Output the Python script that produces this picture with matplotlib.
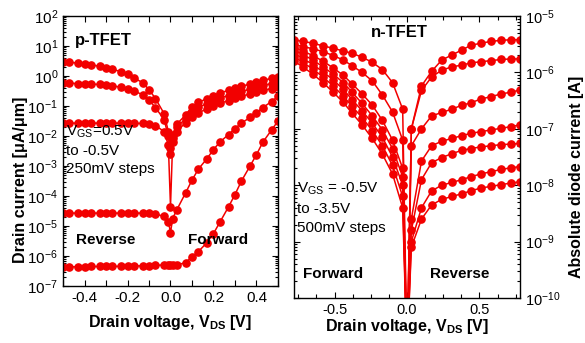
import numpy as np
import matplotlib
matplotlib.use("Agg")
import matplotlib.pyplot as plt
from matplotlib.ticker import LogLocator, MultipleLocator, FuncFormatter, NullFormatter

plt.rcParams['font.family'] = ['Liberation Sans', 'DejaVu Sans']
plt.rcParams['mathtext.fontset'] = 'custom'
plt.rcParams['mathtext.rm'] = 'Liberation Sans'
plt.rcParams['mathtext.it'] = 'Liberation Sans:italic'
plt.rcParams['mathtext.bf'] = 'Liberation Sans:bold'

RED = '#f20000'

# ---- p-TFET (left), drain current in uA/um, stored as log10 ----
p_vds = [-0.50, -0.47, -0.43, -0.40, -0.37, -0.33, -0.30, -0.27, -0.23, -0.20,
         -0.17, -0.13, -0.10, -0.07, -0.03, -0.01, 0.00, 0.01, 0.03, 0.07, 0.10, 0.13,
         0.17, 0.20, 0.23, 0.27, 0.30, 0.33, 0.37, 0.40, 0.43, 0.47, 0.50]

p_log_a = [0.48, 0.46, 0.43, 0.40, 0.37, 0.33, 0.28, 0.22, 0.15, 0.06,
           -0.06, -0.22, -0.45, -0.75, -1.25, -1.85, -2.40, -1.95, -1.60, -1.30, -1.02, -0.88,
           -0.75, -0.65, -0.56, -0.48, -0.41, -0.34, -0.27, -0.20, -0.14, -0.08, -0.02]
p_log_b = [-0.24, -0.24, -0.25, -0.26, -0.27, -0.28, -0.30, -0.33, -0.37, -0.42,
           -0.50, -0.62, -0.80, -1.05, -1.45, -2.00, -2.60, -2.05, -1.70, -1.42, -1.19, -1.04,
           -0.92, -0.82, -0.73, -0.65, -0.58, -0.51, -0.44, -0.37, -0.31, -0.25, -0.19]
p_log_c = [-1.57, -1.57, -1.57, -1.57, -1.57, -1.57, -1.57, -1.57, -1.57, -1.57,
           -1.58, -1.58, -1.60, -1.65, -1.85, -2.30, -4.35, -2.20, -1.85, -1.55, -1.36, -1.22,
           -1.10, -1.00, -0.91, -0.82, -0.74, -0.67, -0.60, -0.53, -0.47, -0.42, -0.37]
p_log_d = [-4.57, -4.57, -4.57, -4.57, -4.57, -4.57, -4.57, -4.57, -4.57, -4.57,
           -4.57, -4.57, -4.58, -4.60, -4.68, -4.85, -5.22, -4.75, -4.45, -3.90, -3.47, -3.10,
           -2.75, -2.45, -2.20, -1.95, -1.75, -1.57, -1.38, -1.22, -1.05, -0.85, -0.68]
p_log_e = [-6.36, -6.36, -6.36, -6.36, -6.35, -6.35, -6.35, -6.35, -6.34, -6.34,
           -6.33, -6.33, -6.32, -6.31, -6.30, -6.30, -6.30, -6.30, -6.30, -6.22, -6.03, -5.85,
           -5.55, -5.25, -4.87, -4.36, -3.95, -3.50, -3.00, -2.62, -2.20, -1.80, -1.50]
p_curves = [p_log_a, p_log_b, p_log_c, p_log_d, p_log_e]

# ---- n-TFET (right), absolute diode current in A, stored as log10 ----
n_vds = [-0.78, -0.72, -0.65, -0.58, -0.51, -0.44, -0.38, -0.31, -0.24, -0.17,
         -0.10, -0.03, 0.00, 0.03, 0.10, 0.17, 0.24, 0.31, 0.38, 0.44,
         0.51, 0.58, 0.65, 0.72, 0.78]

n_log_1 = [-5.42, -5.45, -5.48, -5.53, -5.57, -5.62, -5.66, -5.73, -5.82, -5.95, -6.18, -6.65,
           -11.0,
           -7.00, -6.24, -5.98, -5.78, -5.69, -5.60, -5.52, -5.48, -5.45, -5.43, -5.42, -5.42]
n_log_2 = [-5.50, -5.54, -5.58, -5.63, -5.70, -5.78, -5.88, -6.00, -6.15, -6.40, -6.70, -7.20,
           -11.0,
           -7.00, -6.32, -6.08, -5.96, -5.90, -5.87, -5.83, -5.81, -5.79, -5.77, -5.76, -5.76]
n_log_3 = [-5.55, -5.62, -5.70, -5.80, -5.92, -6.05, -6.20, -6.38, -6.58, -6.85, -7.20, -7.70,
           -11.0,
           -7.30, -7.00, -6.77, -6.71, -6.65, -6.58, -6.54, -6.47, -6.43, -6.38, -6.35, -6.31]
n_log_4 = [-5.60, -5.68, -5.78, -5.90, -6.03, -6.18, -6.35, -6.55, -6.77, -7.02, -7.35, -7.85,
           -11.0,
           -8.60, -7.57, -7.30, -7.22, -7.17, -7.12, -7.08, -7.05, -7.02, -6.99, -6.96, -6.93]
n_log_5 = [-5.66, -5.75, -5.86, -5.99, -6.13, -6.30, -6.48, -6.68, -6.90, -7.15, -7.50, -8.00,
           -11.0,
           -8.80, -7.90, -7.60, -7.51, -7.44, -7.38, -7.35, -7.32, -7.30, -7.28, -7.27, -7.26]
n_log_6 = [-5.72, -5.82, -5.94, -6.08, -6.24, -6.42, -6.60, -6.80, -7.03, -7.30, -7.65, -8.20,
           -11.0,
           -9.00, -8.40, -8.10, -8.00, -7.95, -7.90, -7.85, -7.80, -7.76, -7.72, -7.69, -7.67]
n_log_7 = [-5.80, -5.90, -6.03, -6.18, -6.35, -6.53, -6.72, -6.93, -7.17, -7.45, -7.80, -8.40,
           -11.0,
           -9.10, -8.60, -8.35, -8.25, -8.20, -8.15, -8.10, -8.05, -8.02, -7.99, -7.96, -7.94]
n_curves = [n_log_1, n_log_2, n_log_3, n_log_4, n_log_5, n_log_6, n_log_7]


def pow_fmt(v, pos):
    e = int(round(np.log10(v)))
    return r'$\mathregular{10^{%d}}$' % e


fig = plt.figure(figsize=(5.85, 3.43), dpi=100)
ax1 = fig.add_axes([0.1077, 0.1662, 0.3675, 0.787])
ax2 = fig.add_axes([0.5026, 0.1312, 0.3863, 0.822])

for c in p_curves:
    ax1.plot(p_vds, 10 ** np.array(c), '-o', color=RED, lw=1.1, ms=5.2, mec=RED, mfc=RED)
for c in n_curves:
    ax2.plot(n_vds, 10 ** np.array(c), '-o', color=RED, lw=1.1, ms=5.2, mec=RED, mfc=RED)

# left axes
ax1.set_yscale('log')
ax1.set_xlim(-0.5, 0.5)
ax1.set_ylim(1e-7, 1e2)
ax1.xaxis.set_major_locator(MultipleLocator(0.2))
ax1.xaxis.set_minor_locator(MultipleLocator(0.1))
ax1.xaxis.set_major_formatter(FuncFormatter(lambda v, p: '%.1f' % v))
ax1.yaxis.set_major_locator(LogLocator(base=10, numticks=20))
ax1.yaxis.set_minor_locator(LogLocator(base=10, subs=np.arange(2, 10), numticks=20))
ax1.yaxis.set_major_formatter(FuncFormatter(pow_fmt))
ax1.yaxis.set_minor_formatter(NullFormatter())
ax1.set_xlabel(r'Drain voltage, V$_\mathregular{DS}$ [V]', fontsize=11.5, fontweight='bold')
ax1.set_ylabel('Drain current [μA/μm]', fontsize=11.5, fontweight='bold')
ax1.xaxis.set_label_coords(0.5, -0.10)
ax1.yaxis.set_label_coords(-0.165, 0.395)

ax1.text(0.055, 0.91, 'p-TFET', transform=ax1.transAxes, fontsize=12, fontweight='bold', va='center')
ax1.text(0.015, 0.600, 'V$_\\mathregular{GS}$=0.5V\nto -0.5V\n250mV steps', transform=ax1.transAxes,
         fontsize=11, va='top', linespacing=1.35)
ax1.text(0.06, 0.155, 'Reverse', transform=ax1.transAxes, fontsize=11, fontweight='bold')
ax1.text(0.58, 0.155, 'Forward', transform=ax1.transAxes, fontsize=11, fontweight='bold')

# right axes
ax2.set_yscale('log')
ax2.set_xlim(-0.78, 0.78)
ax2.set_ylim(1e-10, 1e-5)
ax2.xaxis.set_major_locator(MultipleLocator(0.5))
ax2.xaxis.set_minor_locator(MultipleLocator(0.125))
ax2.xaxis.set_major_formatter(FuncFormatter(lambda v, p: '%.1f' % v))
ax2.yaxis.set_major_locator(LogLocator(base=10, numticks=20))
ax2.yaxis.set_minor_locator(LogLocator(base=10, subs=np.arange(2, 10), numticks=20))
ax2.yaxis.set_major_formatter(FuncFormatter(pow_fmt))
ax2.yaxis.set_minor_formatter(NullFormatter())
ax2.set_xlabel(r'Drain voltage, V$_\mathregular{DS}$ [V]', fontsize=11.5, fontweight='bold')
ax2.set_ylabel('Absolute diode current [A]', fontsize=11.5, fontweight='bold')
ax2.yaxis.set_label_position('right')
ax2.xaxis.set_label_coords(0.5, -0.068)
ax2.yaxis.set_label_coords(1.215, 0.43)

ax2.text(0.465, 0.94, 'n-TFET', transform=ax2.transAxes, fontsize=12, fontweight='bold',
         ha='center', va='center')
ax2.text(0.015, 0.415, 'V$_\\mathregular{GS}$ = -0.5V\nto -3.5V\n500mV steps', transform=ax2.transAxes,
         fontsize=11, va='top', linespacing=1.45)
ax2.text(0.04, 0.07, 'Forward', transform=ax2.transAxes, fontsize=11, fontweight='bold')
ax2.text(0.60, 0.07, 'Reverse', transform=ax2.transAxes, fontsize=11, fontweight='bold')

for ax in (ax1, ax2):
    ax.tick_params(which='both', direction='in', top=True, right=True, left=True, bottom=True,
                   labelsize=11, width=0.8)
    ax.tick_params(which='major', length=4)
    ax.tick_params(which='minor', length=2.5)
    for s in ax.spines.values():
        s.set_linewidth(1.0)
    # empty offset labels, not used
    ax.xaxis.get_offset_text().set_visible(False)
    ax.yaxis.get_offset_text().set_visible(False)
ax1.tick_params(axis='x', which='minor', length=4)
ax2.tick_params(labelleft=False, labelright=True, labelsize=10.5)
ax2.tick_params(axis='x', which='minor', length=3)

fig.savefig('out.png', dpi=100)
